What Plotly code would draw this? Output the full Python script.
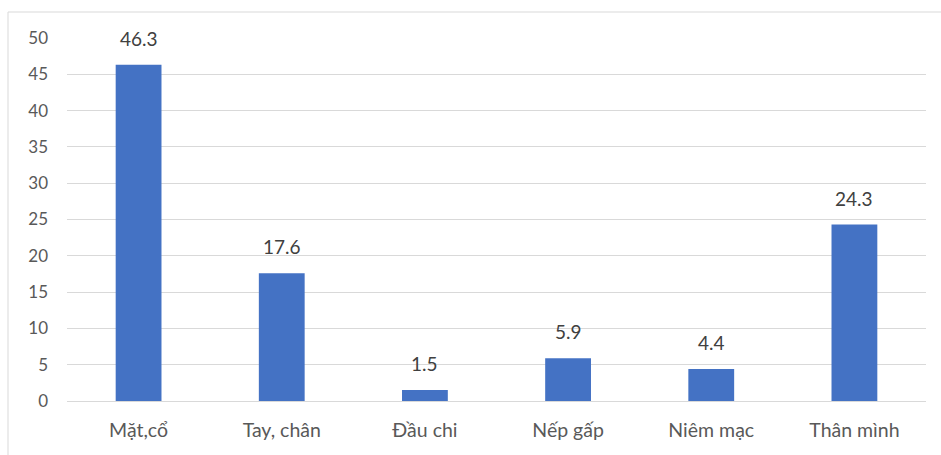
import plotly.graph_objects as go

categories = ["Mặt,cổ", "Tay, chân", "Đầu chi", "Nếp gấp", "Niêm mạc", "Thân mình"]
values = [46.3, 17.6, 1.5, 5.9, 4.4, 24.3]
y_ticks = [0, 5, 10, 15, 20, 25, 30, 35, 40, 45, 50]

FONT = "Lato, Carlito, 'Open Sans', sans-serif"

fig = go.Figure()
fig.add_trace(go.Bar(
    x=categories, y=values,
    marker=dict(color="#4472C4", line=dict(width=0)),
    width=0.32,
    hoverinfo="x+y",
))

for c, v in zip(categories, values):
    fig.add_annotation(x=c, y=v, text=f"{v}", showarrow=False,
                       yanchor="bottom", yshift=13,
                       font=dict(family=FONT, size=19, color="#404040"))

fig.update_layout(
    width=941, height=455,
    margin=dict(l=67, r=15, t=38, b=54),
    paper_bgcolor="white", plot_bgcolor="white",
    showlegend=False,
    font=dict(family=FONT, size=16, color="#595959"),
    bargap=0.68,
    xaxis=dict(showgrid=False, showline=True, linecolor="#D9D9D9", linewidth=1,
               ticks="", ticklabelstandoff=12,
               tickfont=dict(family=FONT, size=19.5, color="#595959")),
    yaxis=dict(range=[0, 50], tickvals=y_ticks, showgrid=True, gridcolor="#D9D9D9",
               gridwidth=1, zeroline=False, showline=False, ticks="",
               ticklabelstandoff=18,
               tickfont=dict(family=FONT, size=17, color="#595959")),
    shapes=[dict(type="rect", xref="paper", yref="paper",
                 x0=-59/859, x1=1.05, y0=-0.3, y1=1 + 26/363,
                 line=dict(color="#D9D9D9", width=1), layer="below")],
)

fig.write_html("out.html")
